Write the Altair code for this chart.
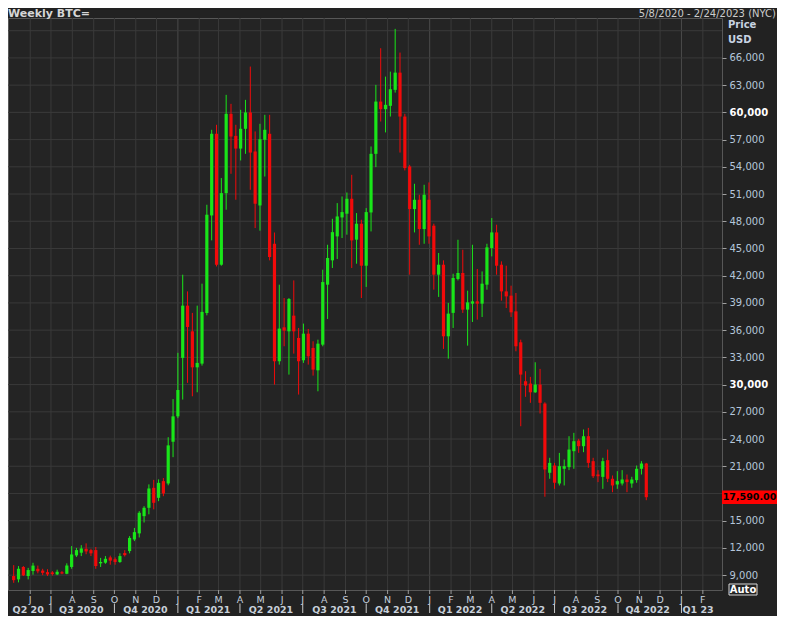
import altair as alt
import pandas as pd

# ---------------- data (weekly BTC candles) ----------------
first_week = "2020-05-08"
opens = [8900, 8530, 9900, 8900, 9450, 9700, 9500, 9330, 9300, 9080,
         9320, 9150, 9900, 11170, 11470, 11900, 11760, 11760, 10300, 10370,
         10950, 10750, 10450, 11430, 11650, 12930, 13600, 15500, 16420, 18620,
         17520, 19360, 19100, 23700, 26500, 32940, 38700, 35870, 31900, 32310,
         37890, 48640, 57640, 43210, 51100, 59840, 57410, 56010, 58190, 59990,
         55690, 49740, 56980, 57640, 45520, 32570, 36310, 35870, 37600, 35140,
         32680, 35610, 34040, 31570, 34400, 41010, 43690, 46330, 48420, 48830,
         50480, 45970, 47730, 43100, 48970, 55430, 61190, 60350, 60720, 62480,
         64380, 59540, 54040, 49340, 50370, 47140, 50370, 47510, 42110, 43210,
         35320, 37900, 41640, 42300, 38260, 38920, 39170, 38920, 41010, 45050,
         46770, 43210, 40270, 39800, 38070, 34660, 30370, 30110, 29150, 30000,
         27910, 20280, 21080, 19100, 20720, 20900, 22660, 23830, 23210, 24310,
         21560, 20090, 19830, 21670, 19620, 18990, 19100, 19540, 19100, 19470,
         20720, 21300]
highs = [10100, 10000, 10000, 9800, 10360, 10050, 9700, 9650, 9450, 9600,
         9450, 10300, 12200, 12000, 12300, 12500, 11900, 12100, 10900, 11100,
         11150, 10950, 11400, 11750, 13300, 14200, 16050, 16600, 19000, 19500,
         19550, 19700, 24200, 28400, 33500, 42110, 40270, 37900, 38700, 41120,
         49820, 58080, 58630, 52760, 61930, 60940, 58630, 60280, 61380, 65050,
         57900, 58740, 59730, 59730, 46760, 41010, 39540, 39540, 41480, 36240,
         36720, 36130, 34770, 34950, 42660, 45410, 48270, 50000, 50730, 51170,
         53120, 48900, 48170, 49450, 56240, 63030, 67070, 63940, 64490, 69200,
         66590, 59840, 54220, 52130, 50920, 52020, 52280, 47730, 44500, 43690,
         39000, 42220, 45960, 44860, 40350, 45410, 42740, 42470, 45520, 48350,
         47620, 43580, 43100, 40900, 40090, 34950, 31470, 30850, 32460, 31730,
         28050, 21930, 21370, 22470, 21740, 24310, 24680, 24020, 25050, 25230,
         21930, 20570, 21930, 22840, 19980, 20460, 20570, 20090, 19840, 21080,
         21560, 21370]
lows = [8150, 8200, 8900, 8530, 9050, 9200, 9000, 8900, 8950, 9000,
        9100, 9100, 9700, 11000, 11100, 11300, 11100, 9700, 9900, 10250,
        10150, 10150, 10350, 11050, 11400, 12750, 13150, 14800, 15700, 16250,
        17150, 17700, 18900, 22000, 26300, 28350, 30190, 28710, 29150, 32090,
        37630, 45890, 43020, 43100, 49270, 53230, 50370, 54700, 55430, 51470,
        47250, 46960, 52930, 43690, 30000, 32200, 34220, 31100, 33410, 28900,
        32390, 32200, 30990, 29260, 34220, 37230, 42850, 43840, 46150, 46520,
        42850, 43320, 39540, 40760, 46880, 53970, 58990, 57790, 59540, 62180,
        55570, 53600, 42110, 46770, 45410, 45520, 45520, 40460, 39660, 33930,
        32860, 36240, 41480, 37900, 34290, 36900, 37160, 37450, 40460, 44130,
        42110, 39250, 38440, 37450, 33670, 25410, 28650, 27990, 29080, 26810,
        17640, 19620, 18510, 18880, 18880, 20570, 20720, 22480, 22550, 20830,
        19700, 19250, 18510, 19250, 18140, 18510, 18880, 18140, 18630, 19180,
        20090, 17260]
closes = [8450, 9700, 8970, 9560, 10050, 9420, 9250, 9080, 9120, 9370,
          9180, 10060, 11280, 11760, 11940, 11610, 11400, 10000, 10450, 10800,
          10600, 10450, 11100, 11200, 13100, 13740, 15870, 16420, 18550, 16970,
          19170, 18000, 23300, 26500, 29400, 38700, 36350, 31900, 32390, 38010,
          48720, 57640, 43210, 51100, 59840, 57340, 56010, 58190, 59990, 55570,
          49930, 57040, 58080, 44060, 32570, 36170, 35950, 39430, 35870, 32570,
          35610, 33120, 31650, 34510, 41300, 43950, 46800, 48530, 49010, 50480,
          45890, 47730, 43100, 49010, 55430, 61190, 60350, 60830, 62550, 64380,
          59540, 53860, 49340, 50370, 47140, 50920, 46330, 42110, 43210, 35320,
          37820, 41750, 42300, 38260, 39060, 39170, 38920, 41120, 45120, 46770,
          43100, 40270, 39720, 37960, 34220, 31100, 29890, 29150, 30000, 27990,
          20640, 21370, 19180, 21010, 21010, 22840, 23760, 23210, 24310, 21370,
          19900, 19900, 21560, 19620, 18880, 19360, 19540, 19250, 19540, 20720,
          21300, 17590]

month_dates = ["2020-06-01", "2020-07-01", "2020-08-01", "2020-09-01", "2020-10-01",
               "2020-11-01", "2020-12-01", "2021-01-01", "2021-02-01", "2021-03-01",
               "2021-04-01", "2021-05-01", "2021-06-01", "2021-07-01", "2021-08-01",
               "2021-09-01", "2021-10-01", "2021-11-01", "2021-12-01", "2022-01-01",
               "2022-02-01", "2022-03-01", "2022-04-01", "2022-05-01", "2022-06-01",
               "2022-07-01", "2022-08-01", "2022-09-01", "2022-10-01", "2022-11-01",
               "2022-12-01", "2023-01-01", "2023-02-01"]
month_letters = ["J", "J", "A", "S", "O", "N", "D", "J", "F", "M", "A", "M", "J", "J",
                 "A", "S", "O", "N", "D", "J", "F", "M", "A", "M", "J", "J", "A", "S",
                 "O", "N", "D", "J", "F"]

quarter_starts = ["2020-07-01", "2020-10-01", "2021-01-01", "2021-04-01", "2021-07-01",
                  "2021-10-01", "2022-01-01", "2022-04-01", "2022-07-01", "2022-10-01",
                  "2023-01-01"]
quarter_label_dates = ["2020-05-29", "2020-08-14", "2020-11-15", "2021-02-14", "2021-05-16",
                       "2021-08-16", "2021-11-15", "2022-02-14", "2022-05-16", "2022-08-14",
                       "2022-11-13", "2023-01-25"]
quarter_labels = ["Q2 20", "Q3 2020", "Q4 2020", "Q1 2021", "Q2 2021", "Q3 2021",
                  "Q4 2021", "Q1 2022", "Q2 2022", "Q3 2022", "Q4 2022", "Q1 23"]

price_ticks = [9000, 12000, 15000, 21000, 24000, 27000, 30000, 33000, 36000, 39000,
               42000, 45000, 48000, 51000, 54000, 57000, 60000, 63000, 66000]
grid_prices = [9000, 12000, 15000, 18000, 21000, 24000, 27000, 30000, 33000, 36000,
               39000, 42000, 45000, 48000, 51000, 54000, 57000, 60000, 63000, 66000, 69000]

chart_title = "Weekly BTC="
date_range_text = "5/8/2020 - 2/24/2023 (NYC)"

# ---------------- tables ----------------
dates = pd.date_range(first_week, periods=len(opens), freq="7D").strftime("%Y-%m-%d").tolist()
candles = pd.DataFrame({"date": dates, "open": opens, "high": highs, "low": lows, "close": closes})
candles["dir"] = ["up" if c >= o else "down" for o, c in zip(opens, closes)]
months = pd.DataFrame({"date": month_dates, "letter": month_letters,
                       "jan": [d.endswith("-01-01") for d in month_dates]})
qsep = pd.DataFrame({"date": quarter_starts})
qlab = pd.DataFrame({"date": quarter_label_dates, "label": quarter_labels})
grid = pd.DataFrame({"v": grid_prices})
last = pd.DataFrame({"close": [closes[-1]], "label": [f"{closes[-1]:,.2f}"]})

GREEN = "#19e619"
RED = "#f20a0a"
GRID = "#3a3a3a"
FONT = "DejaVu Sans"

PLOT_H = 572
# keep the reference's price-per-pixel: 63,700 USD over 578 px
Y_TOP = 70400
Y_BOTTOM = Y_TOP - 63700 * PLOT_H / 578
x_scale = alt.Scale(type="utc", domain=[alt.DateTime(year=2020, month=5, date=7, utc=True),
                                        alt.DateTime(year=2023, month=2, date=21, hours=12, utc=True)])
y_scale = alt.Scale(domain=[Y_BOTTOM, Y_TOP], nice=False, zero=False)
y_axis = alt.Axis(orient="right", values=price_ticks, grid=False, domain=False,
                  tickColor="#a0a0a0", tickSize=4, labelPadding=3, format=",d",
                  labelFont=FONT, labelFontSize=10, labelOverlap=False, labelBound=False,
                  labelFlush=False, title=None,
                  labelColor={"condition": {"test": "datum.value % 30000 === 0", "value": "#ffffff"},
                              "value": "#b4c6da"},
                  labelFontWeight={"condition": {"test": "datum.value % 30000 === 0", "value": "bold"},
                                   "value": "normal"})

X = lambda: alt.X("date:T", scale=x_scale, axis=None)
color = alt.Color("dir:N", scale=alt.Scale(domain=["up", "down"], range=[GREEN, RED]), legend=None)

vgrid = alt.Chart(months).mark_rule(strokeWidth=1).encode(
    x=X(), color=alt.condition("datum.jan", alt.value("#4a4a4a"), alt.value(GRID)))
hgrid = alt.Chart(grid).mark_rule(color=GRID, strokeWidth=1).encode(
    y=alt.Y("v:Q", scale=y_scale, axis=y_axis))
wicks = alt.Chart(candles).mark_rule(strokeWidth=1).encode(
    x=X(), y=alt.Y("low:Q", scale=y_scale, axis=y_axis), y2="high:Q", color=color)
bodies = alt.Chart(candles).mark_bar(size=3.2).encode(
    x=X(), y=alt.Y("open:Q", scale=y_scale, axis=y_axis), y2="close:Q", color=color)

mticks = alt.Chart(months).mark_rule(color="#9a9a9a").encode(
    x=X(), y=alt.value(PLOT_H), y2=alt.value(PLOT_H + 4))
mletters = alt.Chart(months).mark_text(font=FONT, fontSize=9.5, color="#c4cfdc",
                                       baseline="middle").encode(
    x=X(), y=alt.value(PLOT_H + 9.5), text="letter:N")
qseps = alt.Chart(qsep).mark_rule(color="#c8c8c8").encode(
    x=X(), y=alt.value(PLOT_H + 13.5), y2=alt.value(PLOT_H + 23))
qlabels = alt.Chart(qlab).mark_text(font=FONT, fontSize=9.5, fontWeight="bold", color="#c8d0da",
                                    baseline="middle").encode(
    x=X(), y=alt.value(PLOT_H + 19.5), text="label:N")

box = alt.Chart(last).transform_calculate(
    top="datum.close + 740", bot="datum.close - 740").mark_rect(color="#ff0000").encode(
    x=alt.value(714), x2=alt.value(769),
    y=alt.Y("top:Q", scale=y_scale, axis=y_axis), y2="bot:Q")
box_text = alt.Chart(last).mark_text(font=FONT, fontSize=9.5, fontWeight="bold", color="#000000",
                                     baseline="middle", align="center").encode(
    x=alt.value(741.5), y=alt.Y("close:Q", scale=y_scale, axis=y_axis), text="label:N")

def fixed_text(txt, x, y, **kw):
    return alt.Chart(pd.DataFrame({"t": [txt]})).mark_text(font=FONT, baseline="middle", **kw).encode(
        x=alt.value(x), y=alt.value(y), text="t:N")

price_lbl = fixed_text("Price", 720, 7, fontSize=10, fontWeight="bold", color="#c8d4e2", align="left")
usd_lbl = fixed_text("USD", 720, 22, fontSize=10, fontWeight="bold", color="#c8d4e2", align="left")
title_lbl = fixed_text(chart_title, 0, -4, fontSize=11, fontWeight="bold", color="#d6d6d6", align="left")
range_lbl = fixed_text(date_range_text, 768, -4, fontSize=10, color="#cccccc", align="right")

auto_box = alt.Chart(pd.DataFrame({"t": ["Auto"]})).mark_rect(
    fill="#222222", stroke="#d8d8d8", strokeWidth=1).encode(
    x=alt.value(721), x2=alt.value(749), y=alt.value(566), y2=alt.value(577))
auto_lbl = fixed_text("Auto", 735, 572, fontSize=10, fontWeight="bold", color="#ffffff", align="center")

chart = alt.layer(
    vgrid, hgrid, wicks, bodies, mticks, mletters, qseps, qlabels,
    box, box_text, price_lbl, usd_lbl, title_lbl, range_lbl, auto_box, auto_lbl
).properties(
    width=714, height=PLOT_H,
    padding={"left": 0, "top": 10, "right": 55, "bottom": 608 - 10 - PLOT_H},
    autosize=alt.AutoSizeParams(type="none"),
    background="#222222",
).configure_view(
    fill="#242424", stroke="#575757", strokeWidth=1
)

chart.save("out.html", embed_options={"renderer": "svg", "actions": False})
